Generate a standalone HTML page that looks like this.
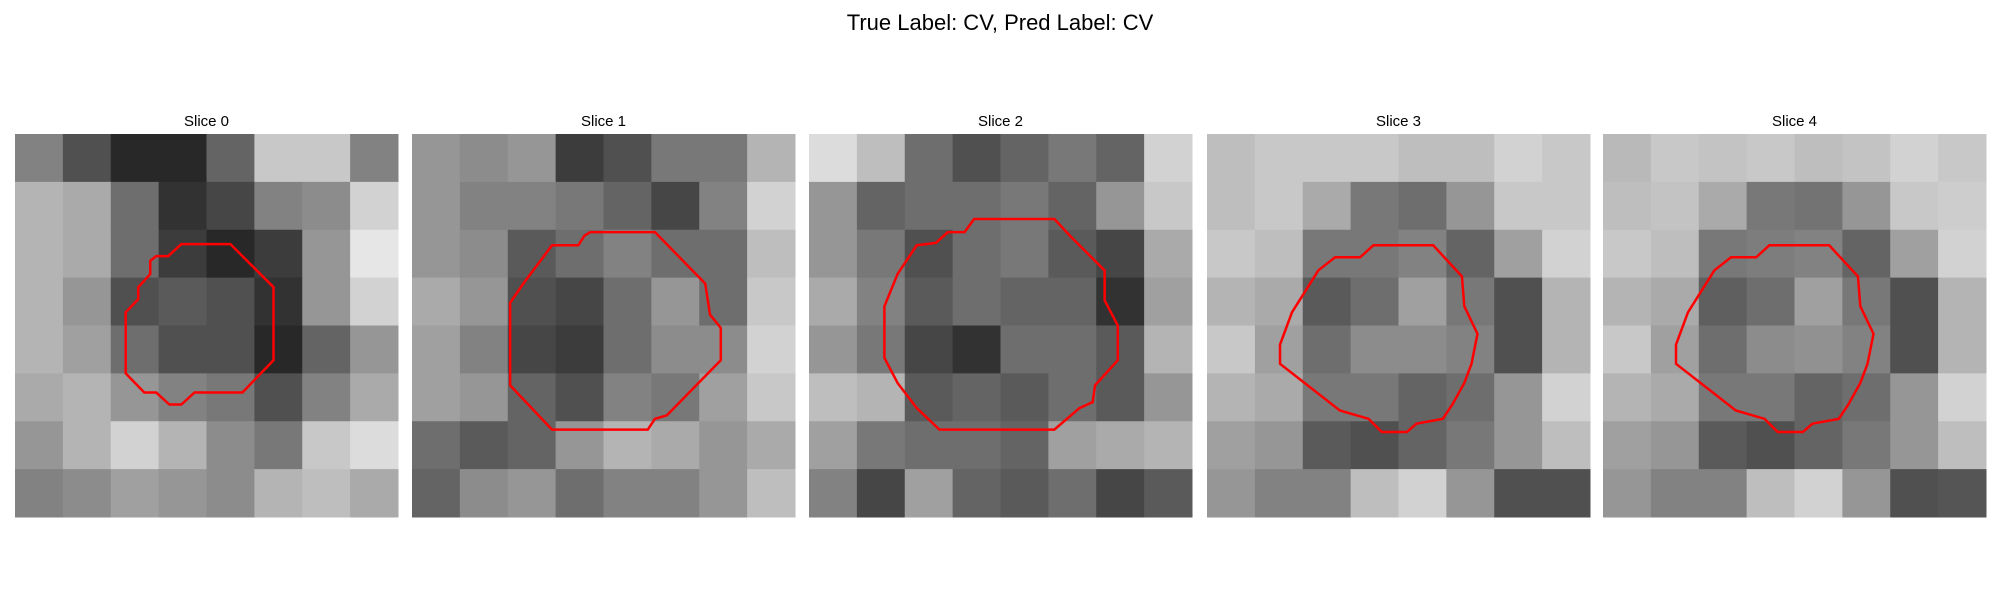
<!DOCTYPE html>
<html><head><meta charset="utf-8"><style>
html,body{margin:0;padding:0;background:#fff;width:2000px;height:600px;overflow:hidden}
svg{display:block;font-family:"Liberation Sans","DejaVu Sans",sans-serif}
</style></head><body>
<svg id="fig" width="2000" height="600" viewBox="0 0 2000 600">
<text x="1000" y="30" text-anchor="middle" font-size="22" fill="#000">True Label: CV, Pred Label: CV</text>
</svg>
<script>
const sliceTitles = ["Slice 0","Slice 1","Slice 2","Slice 3","Slice 4"];
const img0 = [
[130,80,40,40,100,200,200,130],[180,170,110,50,70,130,140,210],[180,170,110,60,40,60,150,230],[180,150,80,90,80,50,150,210],
[180,160,110,80,80,40,100,150],[170,180,150,130,120,80,130,170],[150,180,210,180,140,120,200,220],[130,140,160,150,140,180,190,170]];
const img1 = [
[150,140,150,60,80,120,120,180],[150,130,130,120,100,70,130,210],[150,140,90,110,130,110,110,190],[170,150,80,70,110,150,110,200],
[160,130,70,60,110,140,140,210],[160,150,100,80,130,120,160,200],[110,90,100,150,180,170,150,170],[100,140,150,110,130,130,150,190]];
const img2 = [
[220,190,110,80,100,120,100,210],[150,100,110,110,120,100,150,200],[150,120,80,110,120,90,70,170],[170,130,90,110,100,100,50,160],
[150,120,70,50,110,110,90,180],[190,180,90,100,90,110,90,150],[160,120,110,110,100,160,170,180],[130,70,160,100,90,110,70,90]];
const img3 = [
[190,200,200,200,190,190,210,200],[190,200,170,120,110,150,200,200],[200,190,120,120,130,100,160,210],[180,170,90,110,160,120,80,180],
[200,160,110,140,140,130,80,180],[180,170,120,120,100,110,150,210],[160,150,90,80,100,120,150,190],[150,130,130,190,210,150,80,80]];
const img4 = [
[185,200,195,200,190,195,210,200],[190,195,170,120,115,150,200,205],[200,190,120,125,130,100,160,210],[180,170,95,110,160,120,80,180],
[200,160,110,140,145,130,80,180],[180,170,120,120,100,110,150,210],[160,150,90,80,100,120,150,190],[150,130,130,190,210,150,80,85]];
const contour0 = [[13.9,9.2],[18,9.2],[21.6,12.8],[21.6,18.9],[19,21.6],[15,21.6],[13.9,22.6],[12.9,22.6],[11.8,21.6],[10.8,21.6],[9.25,20],[9.25,14.9],[10.3,13.8],[10.3,12.8],[11.3,11.7],[11.3,10.6],[11.8,10.2],[12.8,10.2]];
const contour1 = [[14.9,8.2],[20.3,8.2],[24.5,12.5],[24.9,15.1],[25.8,16.2],[25.8,18.9],[21.3,23.5],[20.3,23.8],[19.7,24.7],[11.7,24.7],[8.2,21],[8.2,14.1],[9.3,12.5],[11.7,9.3],[13.9,9.3],[14.4,8.5]];
const contour2 = [[13.8,7.1],[20.5,7.1],[21.8,8.5],[24.7,11.4],[24.7,13.9],[25.8,16],[25.8,18.9],[23.9,21],[23.7,22.4],[22.6,22.9],[20.5,24.7],[10.9,24.7],[9,22.9],[7.4,20.8],[6.3,18.7],[6.3,14.4],[7.4,11.7],[9,9.3],[10.6,9.1],[11.6,8.2],[13,8.2]];
const contour3 = [[13.9,9.3],[18.9,9.3],[21.3,11.9],[21.5,14.4],[22.6,16.7],[22.1,19.2],[21.5,20.8],[20.5,22.6],[19.7,23.8],[17.5,24.2],[16.7,24.9],[14.6,24.9],[13.5,23.8],[11.1,23.1],[6.1,19.2],[6.1,17.6],[7.1,14.9],[9.3,11.4],[10.7,10.3],[12.8,10.3]];
const contour4 = [[13.9,9.3],[18.9,9.3],[21.3,11.9],[21.5,14.4],[22.6,16.7],[22.1,19.2],[21.5,20.8],[20.5,22.6],[19.7,23.8],[17.5,24.2],[16.7,24.9],[14.6,24.9],[13.5,23.8],[11.1,23.1],[6.1,19.2],[6.1,17.6],[7.1,14.9],[9.3,11.4],[10.7,10.3],[12.8,10.3]];

const images = [img0,img1,img2,img3,img4];
const contours = [contour0,contour1,contour2,contour3,contour4];
const NS = "http://www.w3.org/2000/svg";
const svg = document.getElementById('fig');
const lefts = [15,412,809,1207,1603], panelTop = 134, size = 383, gridUnits = 32;
function px(i,left,n){return left + i*size/n;}
function py(j,n){return panelTop + j*size/n;}
for (let p=0;p<5;p++){
  const g = document.createElementNS(NS,'g');
  
  
  svg.appendChild(g);
  const t = document.createElementNS(NS,'text');
  t.setAttribute('x', lefts[p]+size/2); t.setAttribute('y', 126);
  t.setAttribute('text-anchor','middle'); t.setAttribute('font-size','15');
  t.textContent = sliceTitles[p];
  
  
  g.appendChild(t);
  const im = images[p], n = im.length;
  for (let r=0;r<n;r++) for (let c=0;c<n;c++){
    const v = im[r][c];
    const rect = document.createElementNS(NS,'rect');
    rect.setAttribute('x', px(c,lefts[p],n)); rect.setAttribute('y', py(r,n));
    rect.setAttribute('width', size/n+0.5); rect.setAttribute('height', size/n+0.5);
    rect.setAttribute('fill', `rgb(${v},${v},${v})`);
    
    
    g.appendChild(rect);
  }
  const pl = document.createElementNS(NS,'polygon');
  pl.setAttribute('points', contours[p].map(q=>px(q[0],lefts[p],gridUnits)+','+py(q[1],gridUnits)).join(' '));
  pl.setAttribute('fill','none'); pl.setAttribute('stroke','#ff0000'); pl.setAttribute('stroke-width','2.5');
  
  
  g.appendChild(pl);
}
</script>
</body></html>
